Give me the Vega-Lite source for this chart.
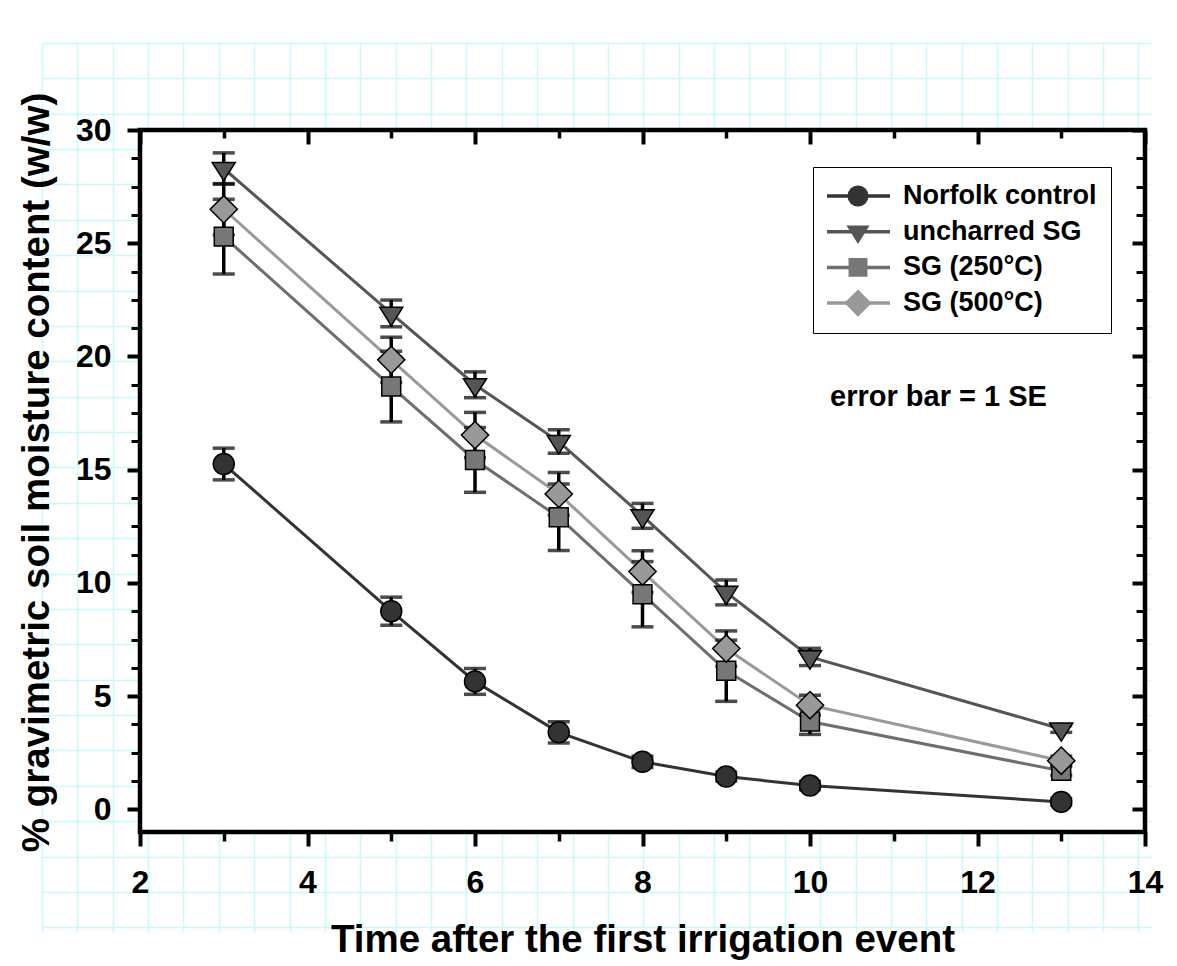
{
  "$schema": "https://vega.github.io/schema/vega-lite/v6.json",
  "width": 1109,
  "height": 889,
  "autosize": {"type": "none"},
  "padding": {"left": 42, "top": 43, "right": 26, "bottom": 34},
  "background": "white",
  "config": {
    "font": "Liberation Sans",
    "view": {"stroke": null},
    "axis": {
      "labelFont": "Liberation Sans",
      "labelFontSize": 32,
      "labelFontWeight": 700,
      "labelColor": "black",
      "titleFont": "Liberation Sans",
      "titleFontWeight": 700,
      "titleFontSize": 38.5,
      "titleColor": "black"
    },
    "legend": {
      "orient": "none",
      "legendX": 771,
      "legendY": 124,
      "padding": 14,
      "clipHeight": 30,
      "rowPadding": 5.7,
      "labelFont": "Liberation Sans",
      "labelFontSize": 27,
      "labelFontWeight": "bold",
      "labelColor": "black",
      "labelLimit": 400,
      "symbolSize": 441,
      "symbolOffset": 17.5,
      "labelOffset": 53.5,
      "symbolStrokeWidth": 1.5,
      "cornerRadius": 0
    }
  },
  "datasets": {
    "moisture": [
      {"series": "Norfolk control", "x": 3, "y": 15.25, "se": 0.7},
      {"series": "Norfolk control", "x": 5, "y": 8.75, "se": 0.62},
      {"series": "Norfolk control", "x": 6, "y": 5.65, "se": 0.57},
      {"series": "Norfolk control", "x": 7, "y": 3.4, "se": 0.47},
      {"series": "Norfolk control", "x": 8, "y": 2.1, "se": 0.25},
      {"series": "Norfolk control", "x": 9, "y": 1.45, "se": 0.2},
      {"series": "Norfolk control", "x": 10, "y": 1.05, "se": 0.18},
      {"series": "Norfolk control", "x": 13, "y": 0.33, "se": 0.15},
      {"series": "uncharred SG", "x": 3, "y": 28.3, "se": 0.69},
      {"series": "uncharred SG", "x": 5, "y": 21.9, "se": 0.59},
      {"series": "uncharred SG", "x": 6, "y": 18.75, "se": 0.57},
      {"series": "uncharred SG", "x": 7, "y": 16.24, "se": 0.52},
      {"series": "uncharred SG", "x": 8, "y": 12.96, "se": 0.55},
      {"series": "uncharred SG", "x": 9, "y": 9.58, "se": 0.55},
      {"series": "uncharred SG", "x": 10, "y": 6.73, "se": 0.38},
      {"series": "uncharred SG", "x": 13, "y": 3.55, "se": 0.15},
      {"series": "SG (250°C)", "x": 3, "y": 25.29, "se": 1.65},
      {"series": "SG (250°C)", "x": 5, "y": 18.67, "se": 1.56},
      {"series": "SG (250°C)", "x": 6, "y": 15.43, "se": 1.43},
      {"series": "SG (250°C)", "x": 7, "y": 12.9, "se": 1.47},
      {"series": "SG (250°C)", "x": 8, "y": 9.5, "se": 1.44},
      {"series": "SG (250°C)", "x": 9, "y": 6.12, "se": 1.35},
      {"series": "SG (250°C)", "x": 10, "y": 3.88, "se": 0.57},
      {"series": "SG (250°C)", "x": 13, "y": 1.7, "se": 0.2},
      {"series": "SG (500°C)", "x": 3, "y": 26.5, "se": 1.13},
      {"series": "SG (500°C)", "x": 5, "y": 19.85, "se": 1.0},
      {"series": "SG (500°C)", "x": 6, "y": 16.53, "se": 1.0},
      {"series": "SG (500°C)", "x": 7, "y": 13.93, "se": 0.94},
      {"series": "SG (500°C)", "x": 8, "y": 10.5, "se": 0.92},
      {"series": "SG (500°C)", "x": 9, "y": 7.1, "se": 0.78},
      {"series": "SG (500°C)", "x": 10, "y": 4.6, "se": 0.44},
      {"series": "SG (500°C)", "x": 13, "y": 2.15, "se": 0.2}
    ]
  },
  "layer": [
    {
      "data": {"values": [{"gx": 0, "gy": 0}]},
      "mark": {"type": "point", "opacity": 0},
      "encoding": {
        "x": {
          "field": "gx", "type": "quantitative",
          "scale": {"domain": [0, 31.354], "nice": false, "zero": false},
          "axis": {"orient": "bottom", "values": [0,1,2,3,4,5,6,7,8,9,10,11,12,13,14,15,16,17,18,19,20,21,22,23,24,25,26,27,28,29,30,31], "grid": true, "gridColor": "#c8fbfb", "gridWidth": 1.5, "gridOpacity": 1, "domain": false, "ticks": false, "labels": false, "title": null, "zindex": 0}
        },
        "y": {
          "field": "gy", "type": "quantitative",
          "scale": {"domain": [0, 25.134], "nice": false, "zero": false, "reverse": true},
          "axis": {"orient": "left", "values": [0,1,2,3,4,5,6,7,8,9,10,11,12,13,14,15,16,17,18,19,20,21,22,23,24,25], "grid": true, "gridColor": "#c8fbfb", "gridWidth": 1.5, "gridOpacity": 1, "domain": false, "ticks": false, "labels": false, "title": null, "zindex": 0}
        }
      }
    },
    {
      "layer": [
        {
          "data": {"values": [{}]},
          "mark": {"type": "rect", "fill": "white", "stroke": null},
          "encoding": {
            "x": {"datum": 2, "type": "quantitative", "scale": {"domain": [0.82985, 14.07164], "nice": false, "zero": false},
              "axis": {"orient": "bottom", "offset": -100, "values": [3,5,7,9,11,13], "domain": false, "grid": false, "zindex": 1, "tickColor": "black", "tickSize": 9, "tickWidth": 3.5, "labels": false, "title": null}},
            "x2": {"datum": 14},
            "y": {"datum": -1, "type": "quantitative", "scale": {"domain": [-5.4159, 33.8419], "nice": false, "zero": false},
              "axis": {"orient": "left", "offset": -98, "values": [1.25,2.5,3.75,6.25,7.5,8.75,11.25,12.5,13.75,16.25,17.5,18.75,21.25,22.5,23.75,26.25,27.5,28.75], "domain": false, "grid": false, "zindex": 1, "tickColor": "black", "tickSize": 9, "tickWidth": 3, "labels": false, "title": null}},
            "y2": {"datum": 30}
          }
        },
        {
          "data": {"name": "moisture"},
          "mark": {"type": "line", "strokeWidth": 3},
          "encoding": {
            "x": {"field": "x", "type": "quantitative", "scale": {"domain": [0.82985, 14.07164], "nice": false, "zero": false},
              "axis": {"orient": "bottom", "offset": -100, "values": [2,4,6,8,10,12,14], "domain": false, "grid": false, "zindex": 1, "tickColor": "black", "tickSize": 14, "tickWidth": 4, "labelFont": "Liberation Sans", "labelFontWeight": 700, "labelFontSize": 32, "labelColor": "black", "labelPadding": 21, "labelFlush": false, "labelOverlap": false, "title": "Time after the first irrigation event", "titleX": 600.5, "titlePadding": 23}},
            "y": {"field": "y", "type": "quantitative", "scale": {"domain": [-5.4159, 33.8419], "nice": false, "zero": false},
              "axis": {"orient": "left", "offset": -98, "values": [0,5,10,15,20,25,30], "domain": false, "grid": false, "zindex": 1, "tickColor": "black", "tickSize": 13, "tickWidth": 4, "labelFont": "Liberation Sans", "labelFontWeight": 700, "labelFontSize": 32, "labelColor": "black", "labelPadding": 16, "labelOverlap": false, "title": "% gravimetric soil moisture content (w/w)", "titleY": 429, "titlePadding": 19}},
            "color": {
              "field": "series", "type": "nominal",
              "sort": ["Norfolk control", "uncharred SG", "SG (250°C)", "SG (500°C)"],
              "scale": {"range": ["#333333", "#555555", "#6e6e6e", "#999999"]},
              "legend": {"title": null, "symbolType": "stroke", "symbolSize": 4096, "symbolStrokeWidth": 3.5, "symbolOffset": -3, "labelOffset": 11, "labelFontSize": 27, "fillColor": "white", "strokeColor": "black"}
            }
          }
        },
        {
          "data": {"name": "moisture"},
          "mark": {"type": "errorbar", "color": "black", "ticks": {"size": 22, "thickness": 3.5, "color": "black"}, "rule": {"strokeWidth": 3.5, "color": "black"}},
          "encoding": {
            "x": {"field": "x", "type": "quantitative", "scale": {"domain": [0.82985, 14.07164], "nice": false, "zero": false}, "axis": null},
            "y": {"field": "y", "type": "quantitative", "scale": {"domain": [-5.4159, 33.8419], "nice": false, "zero": false}, "axis": null},
            "yError": {"field": "se"}
          }
        },
        {
          "data": {"name": "moisture"},
          "mark": {"type": "point", "filled": true, "size": 441, "stroke": "black", "strokeWidth": 1.5, "opacity": 1},
          "encoding": {
            "x": {"field": "x", "type": "quantitative", "scale": {"domain": [0.82985, 14.07164], "nice": false, "zero": false}, "axis": null},
            "y": {"field": "y", "type": "quantitative", "scale": {"domain": [-5.4159, 33.8419], "nice": false, "zero": false}, "axis": null},
            "fill": {
              "field": "series", "type": "nominal",
              "scale": {"domain": ["Norfolk control", "uncharred SG", "SG (250°C)", "SG (500°C)"], "range": ["#333333", "#555555", "#777777", "#999999"]},
              "legend": {"title": null, "symbolStrokeColor": "black", "labelExpr": "''"}
            },
            "shape": {
              "field": "series", "type": "nominal",
              "scale": {"domain": ["Norfolk control", "uncharred SG", "SG (250°C)", "SG (500°C)"], "range": ["circle", "M-1.1,-0.58L1.1,-0.58L0,1.16Z", "M-0.9,-0.9H0.9V0.9H-0.9Z", "M-1.3,0L0,-1.3L1.3,0L0,1.3Z"]},
              "legend": {"title": null, "symbolStrokeColor": "black", "labelExpr": "''"}
            }
          }
        },
        {
          "data": {"values": [{}]},
          "mark": {"type": "text", "text": "error bar = 1 SE", "align": "left", "baseline": "alphabetic", "font": "Liberation Sans", "fontSize": 29, "fontWeight": "bold", "color": "black"},
          "encoding": {
            "x": {"datum": 10.24, "type": "quantitative", "scale": {"domain": [0.82985, 14.07164], "nice": false, "zero": false},
              "axis": {"orient": "top", "offset": -87, "values": [2,4,6,8,10,12,14], "domain": false, "grid": false, "zindex": 1, "tickColor": "black", "tickSize": -14, "tickWidth": 4, "labels": false, "title": null}},
            "y": {"datum": 17.81, "type": "quantitative", "scale": {"domain": [-5.4159, 33.8419], "nice": false, "zero": false},
              "axis": {"orient": "right", "offset": -6, "values": [0,5,10,15,20,25,30], "domain": false, "grid": false, "zindex": 1, "tickColor": "black", "tickSize": -13, "tickWidth": 4, "labels": false, "title": null}}
          }
        },
        {
          "data": {"values": [{}]},
          "mark": {"type": "rect", "filled": false, "color": "black", "strokeWidth": 4.5},
          "encoding": {
            "x": {"datum": 2, "type": "quantitative", "scale": {"domain": [0.82985, 14.07164], "nice": false, "zero": false},
              "axis": {"orient": "top", "offset": -87, "values": [3,5,7,9,11,13], "domain": false, "grid": false, "zindex": 1, "tickColor": "black", "tickSize": -8, "tickWidth": 3.5, "labels": false, "title": null}},
            "x2": {"datum": 14},
            "y": {"datum": -1, "type": "quantitative", "scale": {"domain": [-5.4159, 33.8419], "nice": false, "zero": false},
              "axis": {"orient": "right", "offset": -6, "values": [1.25,2.5,3.75,6.25,7.5,8.75,11.25,12.5,13.75,16.25,17.5,18.75,21.25,22.5,23.75,26.25,27.5,28.75], "domain": false, "grid": false, "zindex": 1, "tickColor": "black", "tickSize": -9, "tickWidth": 3, "labels": false, "title": null}},
            "y2": {"datum": 30}
          }
        }
      ],
      "resolve": {"axis": {"x": "independent", "y": "independent"}}
    }
  ],
  "resolve": {"scale": {"x": "independent", "y": "independent"}, "axis": {"x": "independent", "y": "independent"}}
}
